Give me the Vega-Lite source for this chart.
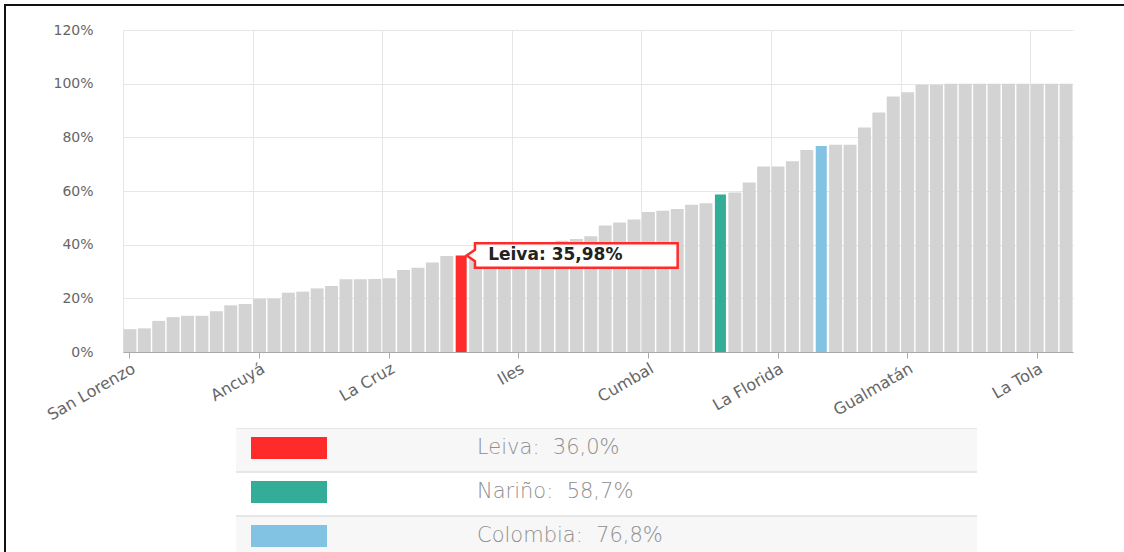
{
  "$schema": "https://vega.github.io/schema/vega-lite/v6.json",
  "background": "white",
  "padding": {"left": 4, "top": 4, "right": 0, "bottom": 0},
  "autosize": {"type": "pad"},
  "config": {"view": {"stroke": null}, "font": "DejaVu Sans"},
  "datasets": {
    "barras": [
      {"municipio": "San Lorenzo", "valor": 8.5, "grupo": "Otros municipios"},
      {"municipio": "Cumbitara", "valor": 8.8, "grupo": "Otros municipios"},
      {"municipio": "Policarpa", "valor": 11.6, "grupo": "Otros municipios"},
      {"municipio": "El Rosario", "valor": 13.0, "grupo": "Otros municipios"},
      {"municipio": "Los Andes", "valor": 13.5, "grupo": "Otros municipios"},
      {"municipio": "Magüí", "valor": 13.5, "grupo": "Otros municipios"},
      {"municipio": "Barbacoas", "valor": 15.2, "grupo": "Otros municipios"},
      {"municipio": "Roberto Payán", "valor": 17.4, "grupo": "Otros municipios"},
      {"municipio": "Santa Bárbara", "valor": 17.9, "grupo": "Otros municipios"},
      {"municipio": "Ancuyá", "valor": 19.8, "grupo": "Otros municipios"},
      {"municipio": "El Charco", "valor": 19.9, "grupo": "Otros municipios"},
      {"municipio": "Mosquera", "valor": 22.1, "grupo": "Otros municipios"},
      {"municipio": "Olaya Herrera", "valor": 22.5, "grupo": "Otros municipios"},
      {"municipio": "Francisco Pizarro", "valor": 23.7, "grupo": "Otros municipios"},
      {"municipio": "Tumaco", "valor": 24.6, "grupo": "Otros municipios"},
      {"municipio": "Ricaurte", "valor": 27.1, "grupo": "Otros municipios"},
      {"municipio": "Mallama", "valor": 27.1, "grupo": "Otros municipios"},
      {"municipio": "Samaniego", "valor": 27.2, "grupo": "Otros municipios"},
      {"municipio": "La Cruz", "valor": 27.5, "grupo": "Otros municipios"},
      {"municipio": "La Llanada", "valor": 30.6, "grupo": "Otros municipios"},
      {"municipio": "Taminango", "valor": 31.4, "grupo": "Otros municipios"},
      {"municipio": "El Peñol", "valor": 33.4, "grupo": "Otros municipios"},
      {"municipio": "El Tambo", "valor": 35.8, "grupo": "Otros municipios"},
      {"municipio": "Leiva", "valor": 35.98, "grupo": "Leiva", "etiqueta": "Leiva: 35,98%"},
      {"municipio": "Linares", "valor": 36.4, "grupo": "Otros municipios"},
      {"municipio": "Arboleda", "valor": 37.2, "grupo": "Otros municipios"},
      {"municipio": "Buesaco", "valor": 38.2, "grupo": "Otros municipios"},
      {"municipio": "Iles", "valor": 39.0, "grupo": "Otros municipios"},
      {"municipio": "Colón", "valor": 40.1, "grupo": "Otros municipios"},
      {"municipio": "San Bernardo", "valor": 40.9, "grupo": "Otros municipios"},
      {"municipio": "San Pablo", "valor": 41.5, "grupo": "Otros municipios"},
      {"municipio": "Belén", "valor": 42.1, "grupo": "Otros municipios"},
      {"municipio": "Albán", "valor": 43.1, "grupo": "Otros municipios"},
      {"municipio": "El Tablón de Gómez", "valor": 47.1, "grupo": "Otros municipios"},
      {"municipio": "San Pedro de Cartago", "valor": 48.3, "grupo": "Otros municipios"},
      {"municipio": "Chachagüí", "valor": 49.4, "grupo": "Otros municipios"},
      {"municipio": "Cumbal", "valor": 52.2, "grupo": "Otros municipios"},
      {"municipio": "Contadero", "valor": 52.6, "grupo": "Otros municipios"},
      {"municipio": "Córdoba", "valor": 53.3, "grupo": "Otros municipios"},
      {"municipio": "Cuaspud", "valor": 54.9, "grupo": "Otros municipios"},
      {"municipio": "Funes", "valor": 55.4, "grupo": "Otros municipios"},
      {"municipio": "Nariño", "valor": 58.7, "grupo": "Nariño"},
      {"municipio": "Guachucal", "valor": 59.4, "grupo": "Otros municipios"},
      {"municipio": "Guaitarilla", "valor": 63.2, "grupo": "Otros municipios"},
      {"municipio": "Imués", "valor": 69.1, "grupo": "Otros municipios"},
      {"municipio": "La Florida", "valor": 69.1, "grupo": "Otros municipios"},
      {"municipio": "Ipiales", "valor": 71.1, "grupo": "Otros municipios"},
      {"municipio": "La Unión", "valor": 75.3, "grupo": "Otros municipios"},
      {"municipio": "Colombia", "valor": 76.8, "grupo": "Colombia"},
      {"municipio": "Nariño (municipio)", "valor": 77.2, "grupo": "Otros municipios"},
      {"municipio": "Ospina", "valor": 77.2, "grupo": "Otros municipios"},
      {"municipio": "Potosí", "valor": 83.7, "grupo": "Otros municipios"},
      {"municipio": "Providencia", "valor": 89.3, "grupo": "Otros municipios"},
      {"municipio": "Puerres", "valor": 95.2, "grupo": "Otros municipios"},
      {"municipio": "Gualmatán", "valor": 96.8, "grupo": "Otros municipios"},
      {"municipio": "Pupiales", "valor": 99.6, "grupo": "Otros municipios"},
      {"municipio": "Sandoná", "valor": 99.6, "grupo": "Otros municipios"},
      {"municipio": "Santacruz", "valor": 100, "grupo": "Otros municipios"},
      {"municipio": "Sapuyes", "valor": 100, "grupo": "Otros municipios"},
      {"municipio": "Tangua", "valor": 100, "grupo": "Otros municipios"},
      {"municipio": "Túquerres", "valor": 100, "grupo": "Otros municipios"},
      {"municipio": "Yacuanquer", "valor": 100, "grupo": "Otros municipios"},
      {"municipio": "Consacá", "valor": 100, "grupo": "Otros municipios"},
      {"municipio": "La Tola", "valor": 100, "grupo": "Otros municipios"},
      {"municipio": "Aldana", "valor": 100, "grupo": "Otros municipios"},
      {"municipio": "Pasto", "valor": 100, "grupo": "Otros municipios"}
    ],
    "leyenda": [
      {"serie": "Leiva", "leyenda": "Leiva:\u00a0\u00a036,0%"},
      {"serie": "Nariño", "leyenda": "Nariño:\u00a0\u00a058,7%"},
      {"serie": "Colombia", "leyenda": "Colombia:\u00a0\u00a076,8%"}
    ]
  },
  "hconcat": [
    {
      "width": 2, "height": 548,
      "view": {"fill": "#111111", "stroke": null},
      "data": {"values": []},
      "mark": "rect",
      "encoding": {}
    },
    {
      "vconcat": [
        {
          "width": 1118, "height": 2,
          "view": {"fill": "#111111", "stroke": null},
          "data": {"values": []},
          "mark": "rect",
          "encoding": {}
        },
        {
          "hconcat": [
            {
              "width": 117, "height": 1,
              "data": {"values": []},
              "mark": "rect",
              "encoding": {}
            },
            {
              "vconcat": [
                {
                  "width": 950,
                  "height": 322,
                  "data": {"name": "barras"},
                  "resolve": {"axis": {"x": "independent"}},
                  "layer": [
                    {
                      "mark": {"type": "bar", "color": "#d3d3d3"},
                      "encoding": {
                        "x": {
                          "field": "municipio", "type": "nominal", "sort": null,
                          "scale": {"paddingInner": 0.1, "paddingOuter": 0.03},
                          "axis": {
                            "orient": "bottom", "grid": true, "gridColor": "#e6e6e6", "gridWidth": 1,
                            "bandPosition": 0, "labels": false, "ticks": false, "domain": false,
                            "title": null,
                            "values": ["San Lorenzo", "Ancuyá", "La Cruz", "Iles", "Cumbal", "La Florida", "Gualmatán", "La Tola"]
                          }
                        },
                        "y": {
                          "field": "valor", "type": "quantitative",
                          "scale": {"domain": [0, 120], "nice": false},
                          "axis": {
                            "values": [0, 20, 40, 60, 80, 100, 120],
                            "labelExpr": "datum.value + '%'",
                            "grid": true, "gridColor": "#e6e6e6", "ticks": false, "domain": false,
                            "labelPadding": 30, "labelFont": "DejaVu Sans", "labelFontSize": 14,
                            "labelColor": "#666666", "title": null
                          }
                        },
                        "opacity": {"condition": {"test": "datum.grupo !== 'Otros municipios'", "value": 0}, "value": 1}
                      }
                    },
                    {
                      "transform": [{"filter": "datum.grupo !== 'Otros municipios'"}],
                      "mark": {"type": "bar", "width": {"band": 0.85}},
                      "encoding": {
                        "x": {
                          "field": "municipio", "type": "nominal", "sort": null,
                          "axis": {
                            "orient": "bottom", "grid": false,
                            "values": ["San Lorenzo", "Ancuyá", "La Cruz", "Iles", "Cumbal", "La Florida", "Gualmatán", "La Tola"],
                            "labelAngle": -30, "labelFont": "DejaVu Sans", "labelFontSize": 16,
                            "labelColor": "#666666", "tickColor": "#aaaaaa", "tickSize": 6,
                            "domainColor": "#aaaaaa", "labelPadding": 2, "title": null
                          }
                        },
                        "y": {"field": "valor", "type": "quantitative"},
                        "color": {
                          "condition": [
                            {"test": "datum.grupo === 'Leiva'", "value": "#ff2b2b"},
                            {"test": "datum.grupo === 'Nariño'", "value": "#33ad97"}
                          ],
                          "value": "#82c2e3"
                        }
                      }
                    },
                    {
                      "transform": [{"filter": "datum.grupo === 'Leiva'"}],
                      "mark": {
                        "type": "point",
                        "shape": "M0.025,0L0.0627,-0.026L0.0627,-0.0555L0.984,-0.0555L0.984,0.0555L0.0627,0.0555L0.0627,0.026Z",
                        "size": 193600, "filled": true, "fill": "#ffffff", "stroke": "#ff2b2b",
                        "strokeWidth": 2.5, "opacity": 1, "fillOpacity": 1, "strokeOpacity": 1
                      },
                      "encoding": {
                        "x": {"field": "municipio", "type": "nominal", "sort": null, "axis": null},
                        "y": {"field": "valor", "type": "quantitative"}
                      }
                    },
                    {
                      "transform": [{"filter": "datum.grupo === 'Leiva'"}],
                      "mark": {
                        "type": "text", "align": "left", "baseline": "middle", "dx": 27,
                        "font": "DejaVu Sans", "fontSize": 17, "fontWeight": "bold", "color": "#222222"
                      },
                      "encoding": {
                        "x": {"field": "municipio", "type": "nominal", "sort": null, "axis": null},
                        "y": {"field": "valor", "type": "quantitative"},
                        "text": {"field": "etiqueta"}
                      }
                    }
                  ]
                },
                {
                  "hconcat": [
                    {
                      "width": 113, "height": 1,
                      "data": {"values": []},
                      "mark": "rect",
                      "encoding": {}
                    },
                    {
                      "width": 741,
                      "height": 124,
                      "data": {"name": "leyenda"},
                      "layer": [
                        {
                          "mark": {"type": "rect", "clip": true},
                          "encoding": {
                            "y": {"field": "serie", "type": "nominal", "sort": null, "axis": null,
                                  "scale": {"domain": ["Leiva", "Nariño", "Colombia"], "range": [0, 132], "paddingInner": 0, "paddingOuter": 0}},
                            "color": {
                              "field": "leyenda", "type": "nominal",
                              "scale": {
                                "domain": ["Leiva:\u00a0\u00a036,0%", "Nariño:\u00a0\u00a058,7%", "Colombia:\u00a0\u00a076,8%"],
                                "range": ["#ff2b2b", "#33ad97", "#82c2e3"]
                              },
                              "legend": {
                                "orient": "none", "legendX": 31, "legendY": -2, "title": null,
                                "symbolType": "M-1.727,-0.5H1.727V0.5H-1.727Z", "symbolSize": 1936,
                                "symbolStrokeWidth": 0, "symbolOpacity": 1,
                                "labelOffset": 166, "labelFont": "DejaVu Sans", "labelFontSize": 21,
                                "labelFontWeight": 200, "labelColor": "#8f8f8f",
                                "rowPadding": 11, "labelLimit": 0, "padding": 0, "direction": "vertical"
                              }
                            }
                          }
                        },
                        {
                          "mark": {"type": "rect", "clip": true},
                          "encoding": {
                            "y": {"field": "serie", "type": "nominal", "sort": null, "axis": null},
                            "fill": {
                              "field": "serie", "type": "nominal",
                              "scale": {"domain": ["Leiva", "Nariño", "Colombia"], "range": ["#f7f7f7", "#ffffff", "#f7f7f7"]},
                              "legend": null
                            }
                          }
                        },
                        {
                          "mark": {"type": "rule", "clip": true, "color": "#e0e0e0", "strokeWidth": 1.5},
                          "encoding": {
                            "y": {"field": "serie", "type": "nominal", "sort": null, "axis": null, "bandPosition": 0}
                          }
                        }
                      ]
                    }
                  ],
                  "spacing": 0,
                  "bounds": "flush",
                  "resolve": {"scale": {"color": "independent", "fill": "independent"}, "legend": {"color": "independent", "fill": "independent"}}
                }
              ],
              "spacing": 76,
              "bounds": "flush"
            }
          ],
          "spacing": 0,
          "bounds": "flush"
        }
      ],
      "spacing": 24,
      "bounds": "flush"
    }
  ],
  "spacing": 0,
  "bounds": "flush"
}
